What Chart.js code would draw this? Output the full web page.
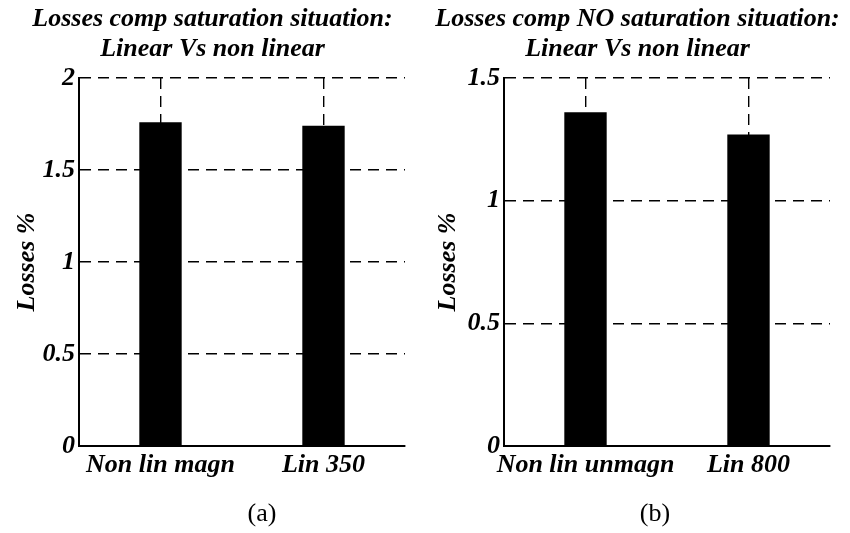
<!DOCTYPE html>
<html>
<head>
<meta charset="utf-8">
<script src="https://cdn.jsdelivr.net/npm/chart.js@4.4.1/dist/chart.umd.min.js"></script>
<style>
  body { margin: 0; background: #fff; }
  #wrap { display: flex; width: 850px; height: 533px; }
  canvas { display: block; }
</style>
</head>
<body>
<div id="wrap">
  <canvas id="chartA" width="425" height="533"></canvas>
  <canvas id="chartB" width="425" height="533"></canvas>
</div>
<script>
// Dane: porównanie strat (nasycenie / brak nasycenia)
const titleA = ['Losses comp saturation situation:', 'Linear Vs non linear'];
const labelsA = ['Non lin magn', 'Lin 350'];
const lossesA = [1.76, 1.74];
const yMaxA = 2;

const titleB = ['Losses comp NO saturation situation:', 'Linear Vs non linear'];
const labelsB = ['Non lin unmagn', 'Lin 800'];
const lossesB = [1.36, 1.27];
const yMaxB = 1.5;

const yStep = 0.5;
const yLabel = 'Losses %';
const captions = ['(a)', '(b)'];

const serifBI = { family: "'Liberation Serif', 'DejaVu Serif', serif", style: 'italic', weight: 'bold', size: 26, lineHeight: 1.1 };

// Tytuł i podpis rysowane bezpośrednio na płótnie
const textPlugin = {
    id: 'textPlugin',
    afterDraw(chart, args, opts) {
        const ctx = chart.ctx;
        ctx.save();
        ctx.fillStyle = '#000';
        ctx.textAlign = 'center';
        ctx.textBaseline = 'middle';
        ctx.font = "italic bold 26px 'Liberation Serif', serif";
        opts.title.forEach((line, i) => {
            ctx.fillText(line, chart.width / 2, 19 + i * 30);
        });
        ctx.font = "26px 'Liberation Serif', serif";
        ctx.fillText(opts.caption, opts.captionX, 514);
        ctx.restore();
    }
};

function makeChart(canvasId, labels, values, yMax, title, caption, captionX, titlePad) {
    const ctx = document.getElementById(canvasId).getContext('2d');
    return new Chart(ctx, {
        type: 'bar',
        data: {
            labels: labels,
            datasets: [{
                data: values,
                backgroundColor: '#000',
                borderWidth: 0,
                barPercentage: 0.26,
                categoryPercentage: 1
            }]
        },
        options: {
            responsive: false,
            animation: false,
            layout: { padding: { top: 78, right: 20, left: 0, bottom: 0 } },
            plugins: {
                legend: { display: false },
                tooltip: { enabled: false },
                textPlugin: { title: title, caption: caption, captionX: captionX }
            },
            scales: {
                x: {
                    offset: true,
                    grid: { offset: false, color: '#000', lineWidth: 1.4, drawTicks: false },
                    border: { display: true, color: '#000', width: 2, dash: [11, 7] },
                    ticks: { color: '#000', font: serifBI, padding: 5, maxRotation: 0, autoSkip: false },
                    afterFit(scale) { scale.height = 87; }
                },
                y: {
                    min: 0,
                    max: yMax,
                    grid: { color: '#000', lineWidth: 1.4, drawTicks: false },
                    border: { display: true, color: '#000', width: 2, dash: [11, 7] },
                    ticks: {
                        stepSize: yStep,
                        color: '#000',
                        font: serifBI,
                        padding: 4,
                        callback: v => String(v)
                    },
                    title: { display: true, text: yLabel, color: '#000', font: serifBI, padding: titlePad },
                    afterFit(scale) { scale.width = 79; }
                }
            }
        },
        plugins: [textPlugin]
    });
}

makeChart('chartA', labelsA, lossesA, yMaxA, titleA, captions[0], 262, { top: 13, bottom: 0 });
makeChart('chartB', labelsB, lossesB, yMaxB, titleB, captions[1], 230, { top: 9, bottom: 0 });
</script>
</body>
</html>
